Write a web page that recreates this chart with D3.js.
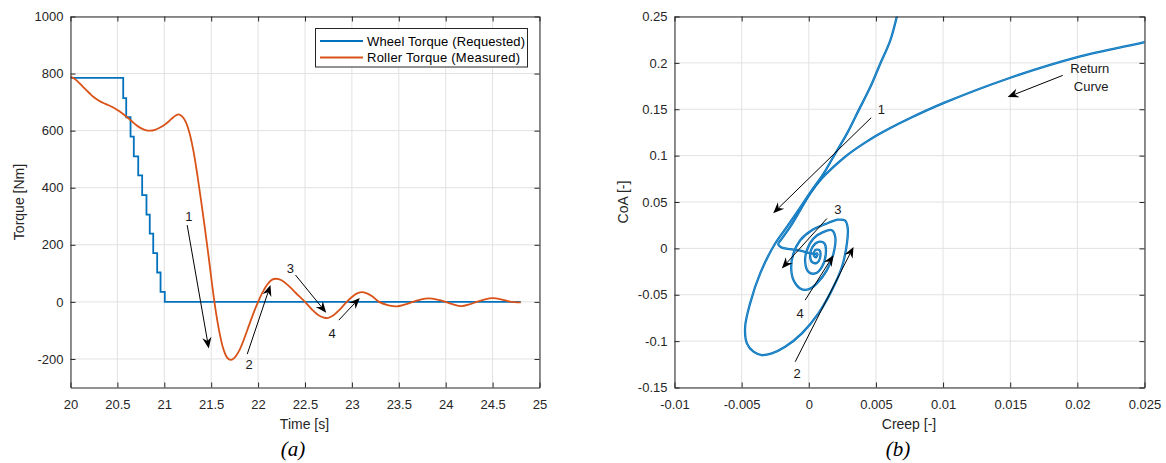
<!DOCTYPE html>
<html><head><meta charset="utf-8">
<script src="https://cdn.jsdelivr.net/npm/d3@7"></script>
<style>
body{margin:0;background:#fff;}
svg{display:block;font-family:"Liberation Sans",Arial,Helvetica,sans-serif;}
</style></head><body>
<svg id="chart" width="1166" height="463"></svg>
<script>
// ---------- Panel (a) data ----------
const wheelTime   = [20, 20.562, 20.594, 20.640, 20.675, 20.722, 20.764, 20.810, 20.845, 20.882, 20.924, 20.960, 21.005, 24.8];
const wheelTorque = [785, 714, 647, 579, 510, 443, 374, 306, 239, 171, 103, 35, 0, 0];

const rollerTime = [20.00,20.05,20.10,20.15,20.20,20.25,20.30,20.35,20.40,20.45,20.50,20.55,20.60,20.65,20.70,20.75,20.80,20.85,20.90,20.95,
  21.00,21.05,21.10,21.15,21.19,21.23,21.27,21.31,21.35,21.39,21.43,21.47,21.51,21.55,21.59,21.63,21.67,21.71,21.75,21.80,21.85,21.90,21.95,
  22.00,22.05,22.10,22.15,22.19,22.25,22.32,22.40,22.50,22.57,22.64,22.70,22.74,22.80,22.87,22.93,23.00,23.05,23.10,23.16,23.22,23.29,
  23.38,23.48,23.56,23.65,23.74,23.82,23.91,24.00,24.08,24.17,24.25,24.33,24.42,24.50,24.58,24.66,24.73,24.80];
const rollerTorque = [790,780,765,748,732,717,706,697,690,682,672,661,648,634,620,609,602,600,603,610,
  620,633,648,657,650,630,590,530,450,360,265,165,60,-35,-110,-165,-195,-203,-195,-170,-130,-85,-40,
  0,35,62,78,81,76,58,32,0,-25,-46,-55,-57,-48,-27,-5,17,29,34,30,19,0,
  -11,-16,-10,0,9,12,8,0,-9,-15,-9,0,9,13,10,3,-1,-2];

const seriesNames = ["Wheel Torque (Requested)", "Roller Torque (Measured)"];
const aXTicks = [20,20.5,21,21.5,22,22.5,23,23.5,24,24.5,25];
const aXTickLabels = ["20","20.5","21","21.5","22","22.5","23","23.5","24","24.5","25"];
const aYTicks = [-200,0,200,400,600,800,1000];
const aYTickLabels = ["-200","0","200","400","600","800","1000"];

// annotations panel (a): [startT, startV, tipT, tipV, label, labelT, labelV]
const aArrows = [
  [21.244, 269, 21.474, -163, "1", 21.261, 300],
  [21.884, -183, 22.132, 59, "2", 21.905, -221],
  [22.399, 94, 22.726, -38, "3", 22.345, 117],
  [22.860, -64, 23.084, 14, "4", 22.790, -110]
];

// ---------- Panel (b) data ----------
const mainCreep = [0.00666,0.00607,0.00532,0.00458,0.00371,0.00284,0.00197,0.00110,0.00023,-0.00077,-0.00163,-0.00258,-0.00362,-0.00437,-0.00474,
  -0.00461,-0.00412,-0.00350,-0.00275,-0.00176,-0.00051,0.00072,0.00172,0.00247,0.00284,0.00290,0.00271,0.00219,0.00122,0.00023,-0.00064,
  -0.00114,-0.00131,-0.00114,-0.00064,-0.00002,0.00060,0.00135,0.00184,0.00197,0.00172,0.00110,0.00035,-0.00014,-0.00027,-0.00002,0.00048,
  0.00098,0.00127,0.00117,0.00072,0.00028,0.00010,0.00023,0.00060,0.00085,0.00078,0.00048,0.00038,0.00053,0.00065,0.00055];
const mainCoA = [0.2565,0.2242,0.1991,0.1739,0.1488,0.1237,0.1022,0.0806,0.0627,0.0411,0.0231,0.0034,-0.0270,-0.0593,-0.0845,
  -0.1024,-0.1114,-0.1150,-0.1132,-0.1061,-0.0916,-0.0701,-0.0450,-0.0199,0.0053,0.0217,0.0298,0.0309,0.0261,0.0196,0.0088,
  -0.0055,-0.0199,-0.0342,-0.0432,-0.0443,-0.0378,-0.0235,-0.0055,0.0124,0.0196,0.0178,0.0107,-0.0019,-0.0145,-0.0253,-0.0270,
  -0.0199,-0.0055,0.0053,0.0070,0.0016,-0.0073,-0.0145,-0.0156,-0.0092,-0.0019,-0.0019,-0.0073,-0.0098,-0.0062,-0.0046];

const returnCreep = [0.02545,0.02500,0.02001,0.01501,0.01002,0.00756,0.00607,0.00508,0.00408,0.00284,0.00184,0.00085,0.00010,-0.00064,
  -0.00139,-0.00198,-0.00228,-0.00206,-0.00139,-0.00064,0.00010,0.00055];
const returnCoA = [0.2242,0.2223,0.2062,0.1840,0.1566,0.1406,0.1298,0.1219,0.1129,0.1003,0.0878,0.0735,0.0591,0.0411,
  0.0231,0.0110,0.0045,0.0013,-0.0009,-0.0025,-0.0052,-0.0062];

const bXTicks = [-0.01,-0.005,0,0.005,0.01,0.015,0.02,0.025];
const bXTickLabels = ["-0.01","-0.005","0","0.005","0.01","0.015","0.02","0.025"];
const bYTicks = [-0.15,-0.1,-0.05,0,0.05,0.1,0.15,0.2,0.25];
const bYTickLabels = ["-0.15","-0.1","-0.05","0","0.05","0.1","0.15","0.2","0.25"];

// annotations panel (b)
const bArrows = [
  [0.00465, 0.1409, -0.00265, 0.0379, "1", 0.00540, 0.1496],
  [-0.00101, -0.1222, 0.00333, 0.0016, "2", -0.00086, -0.1344],
  [0.00135, 0.0322, -0.00201, -0.0216, "3", 0.00217, 0.0419],
  [-0.00027, -0.0558, 0.00184, -0.0073, "4", -0.00064, -0.0701],
  [0.01891, 0.1865, 0.01481, 0.1631, "", 0, 0]
];
const returnLabel = ["Return", "Curve"];
const returnLabelPos = [[0.02093, 0.1943], [0.02103, 0.1750]];

// ---------- drawing ----------
const svg = d3.select("#chart");
svg.append("rect").attr("width",1166).attr("height",463).attr("fill","#fff");
const AX = "#262626", GRID = "#e2e2e2";
const BLUE = "#0072BD", ORANGE = "#D95319";

function drawFrame(x, y, xt, yt, id) {
  const g = svg.append("g");
  const [x0,x1] = x.range(), [y0,y1] = y.range();
  g.append("g").selectAll("line").data(xt).join("line")
    .attr("x1",d=>x(d)).attr("x2",d=>x(d)).attr("y1",y0).attr("y2",y1)
    .attr("stroke",GRID).attr("stroke-width",1);
  g.append("g").selectAll("line").data(yt).join("line")
    .attr("y1",d=>y(d)).attr("y2",d=>y(d)).attr("x1",x0).attr("x2",x1)
    .attr("stroke",GRID).attr("stroke-width",1);
  svg.append("clipPath").attr("id",id).append("rect")
    .attr("x",x0).attr("y",y1).attr("width",x1-x0).attr("height",y0-y1);
  return g;
}
function drawAxes(x, y, xt, xl, yt, yl) {
  const [x0,x1] = x.range(), [y0,y1] = y.range();
  const axes = [
    svg.append("g").attr("transform",`translate(0,${y0})`)
      .call(d3.axisBottom(x).tickValues(xt).tickFormat((d,i)=>xl[i]).tickSizeInner(-5).tickSizeOuter(0).tickPadding(12)),
    svg.append("g").attr("transform",`translate(0,${y1})`)
      .call(d3.axisTop(x).tickValues(xt).tickFormat("").tickSizeInner(-5).tickSizeOuter(0)),
    svg.append("g").attr("transform",`translate(${x0},0)`)
      .call(d3.axisLeft(y).tickValues(yt).tickFormat((d,i)=>yl[i]).tickSizeInner(-5).tickSizeOuter(0).tickPadding(7)),
    svg.append("g").attr("transform",`translate(${x1},0)`)
      .call(d3.axisRight(y).tickValues(yt).tickFormat("").tickSizeInner(-5).tickSizeOuter(0))
  ];
  axes.forEach(a => {
    a.selectAll(".domain").attr("stroke",AX).attr("stroke-width",1);
    a.selectAll(".tick line").attr("stroke",AX).attr("stroke-width",1);
    a.selectAll("text").attr("fill",AX).attr("font-size",13)
      .attr("font-family",'"Liberation Sans",Arial,sans-serif');
  });
}
function arrow(g, x1, y1, x2, y2) {
  const dx=x2-x1, dy=y2-y1, L=Math.hypot(dx,dy), ux=dx/L, uy=dy/L, nx=-uy, ny=ux;
  const hl=11, hw=4.6, notch=7.5;
  g.append("line").attr("x1",x1).attr("y1",y1)
    .attr("x2",x2-notch*ux).attr("y2",y2-notch*uy)
    .attr("stroke","#000").attr("stroke-width",1);
  const pts = [[x2,y2],[x2-hl*ux+hw*nx,y2-hl*uy+hw*ny],[x2-notch*ux,y2-notch*uy],[x2-hl*ux-hw*nx,y2-hl*uy-hw*ny]];
  g.append("polygon").attr("points",pts.map(p=>p.join(",")).join(" ")).attr("fill","#000");
}

// ----- Panel (a)
const ax = d3.scaleLinear().domain([20,25]).range([70.5,539.5]);
const ay = d3.scaleLinear().domain([-300,1000]).range([387.5,16.5]);
drawFrame(ax, ay, aXTicks, aYTicks, "clipA");
const ga = svg.append("g").attr("clip-path","url(#clipA)");
const wheelPts = wheelTime.map((t,i)=>[t, wheelTorque[i]]);
const rollerPts = rollerTime.map((t,i)=>[t, rollerTorque[i]]);
ga.append("path").attr("d", d3.line().x(d=>ax(d[0])).y(d=>ay(d[1])).curve(d3.curveStepAfter)(wheelPts))
  .attr("fill","none").attr("stroke",BLUE).attr("stroke-width",1.8);
ga.append("path").attr("d", d3.line().x(d=>ax(d[0])).y(d=>ay(d[1])).curve(d3.curveCatmullRom.alpha(0.5))(rollerPts))
  .attr("fill","none").attr("stroke",ORANGE).attr("stroke-width",1.8);
drawAxes(ax, ay, aXTicks, aXTickLabels, aYTicks, aYTickLabels);
const annA = svg.append("g");
aArrows.forEach(a => {
  arrow(annA, ax(a[0]), ay(a[1]), ax(a[2]), ay(a[3]));
  annA.append("text").attr("x",ax(a[5])).attr("y",ay(a[6])).attr("text-anchor","middle")
    .attr("dominant-baseline","central").attr("font-size",13).attr("fill","#1a1a1a").text(a[4]);
});
// legend
const lg = svg.append("g");
lg.append("rect").attr("x",315.5).attr("y",28.5).attr("width",212).attr("height",38.5)
  .attr("fill","#fff").attr("stroke",AX).attr("stroke-width",1);
[[BLUE,41],[ORANGE,57.5]].forEach((c,i)=>{
  lg.append("line").attr("x1",320).attr("x2",363).attr("y1",c[1]).attr("y2",c[1])
    .attr("stroke",c[0]).attr("stroke-width",1.8);
  lg.append("text").attr("x",367).attr("y",c[1]).attr("dominant-baseline","central")
    .attr("font-size",13).attr("fill","#000").attr("textLength", i===0 ? 158 : 153)
    .attr("lengthAdjust","spacing").text(seriesNames[i]);
});
svg.append("text").attr("x",304.5).attr("y",424).attr("text-anchor","middle").attr("dominant-baseline","central")
  .attr("font-size",14).attr("fill",AX).text("Time [s]");
svg.append("text").attr("transform","translate(19,202) rotate(-90)").attr("text-anchor","middle")
  .attr("dominant-baseline","central").attr("font-size",14).attr("fill",AX).text("Torque [Nm]");
svg.append("text").attr("x",293).attr("y",449).attr("text-anchor","middle").attr("dominant-baseline","central")
  .attr("font-family",'"Liberation Serif","Times New Roman",serif').attr("font-style","italic")
  .attr("font-size",21).attr("fill","#000").text("(a)");

// ----- Panel (b)
const bx = d3.scaleLinear().domain([-0.01,0.025]).range([674.5,1144.5]);
const by = d3.scaleLinear().domain([-0.15,0.25]).range([387.5,16.5]);
drawFrame(bx, by, bXTicks, bYTicks, "clipB");
const gb = svg.append("g").attr("clip-path","url(#clipB)");
const lineB = d3.line().x(d=>bx(d[0])).y(d=>by(d[1])).curve(d3.curveCatmullRom.alpha(0.5));
const mainPts = mainCreep.map((c,i)=>[c, mainCoA[i]]);
const retPts = returnCreep.map((c,i)=>[c, returnCoA[i]]);
[retPts, mainPts].forEach(p=>{
  gb.append("path").attr("d", lineB(p)).attr("fill","none").attr("stroke",BLUE).attr("stroke-width",2.3);
  gb.append("path").attr("d", lineB(p)).attr("fill","none").attr("stroke","#fff").attr("stroke-opacity",0.4).attr("stroke-width",0.55);
});
drawAxes(bx, by, bXTicks, bXTickLabels, bYTicks, bYTickLabels);
const annB = svg.append("g");
bArrows.forEach(a => {
  arrow(annB, bx(a[0]), by(a[1]), bx(a[2]), by(a[3]));
  if (a[4]) annB.append("text").attr("x",bx(a[5])).attr("y",by(a[6])).attr("text-anchor","middle")
    .attr("dominant-baseline","central").attr("font-size",13).attr("fill","#1a1a1a").text(a[4]);
});
returnLabel.forEach((t,i)=>{
  annB.append("text").attr("x",bx(returnLabelPos[i][0])).attr("y",by(returnLabelPos[i][1]))
    .attr("text-anchor","middle").attr("dominant-baseline","central").attr("font-size",13).attr("fill","#1a1a1a").text(t);
});
svg.append("text").attr("x",909).attr("y",424).attr("text-anchor","middle").attr("dominant-baseline","central")
  .attr("font-size",14).attr("fill",AX).text("Creep [-]");
svg.append("text").attr("transform","translate(623,202) rotate(-90)").attr("text-anchor","middle")
  .attr("dominant-baseline","central").attr("font-size",14).attr("fill",AX).text("CoA [-]");
svg.append("text").attr("x",898).attr("y",449).attr("text-anchor","middle").attr("dominant-baseline","central")
  .attr("font-family",'"Liberation Serif","Times New Roman",serif').attr("font-style","italic")
  .attr("font-size",21).attr("fill","#000").text("(b)");
</script>
</body></html>
